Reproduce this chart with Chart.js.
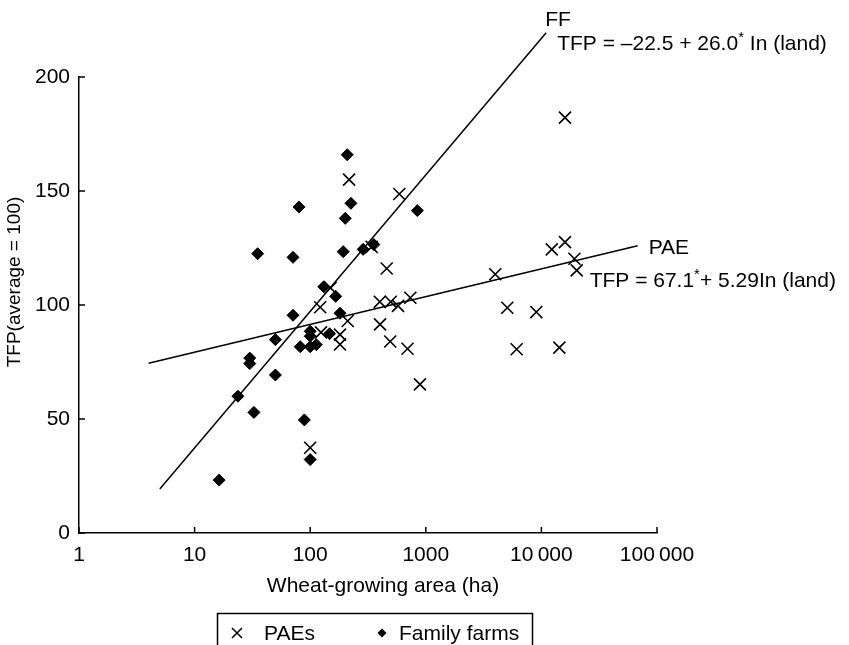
<!DOCTYPE html>
<html>
<head>
<meta charset="utf-8">
<title>TFP and wheat-growing area</title>
<script src="https://cdn.jsdelivr.net/npm/chart.js@4.4.1/dist/chart.umd.min.js"></script>
<style>
  body { margin: 0; background: #fff; }
  #wrap { width: 849px; height: 645px; position: relative; }
</style>
</head>
<body>
<div id="wrap"><canvas id="chart"></canvas></div>
<script>
const xTicks = [1, 10, 100, 1000, 10000, 100000]
const xTickLabels = ['1', '10', '100', '1000', '10\u2009000', '100\u2009000']
const yTicks = [0, 50, 100, 150, 200]

// PAEs (crosses)
const paeArea = [217, 590, 340, 459, 122, 150, 211, 402, 400, 497, 575, 735,
  124, 181, 181, 492, 695, 890, 100, 16000, 16000, 12300, 19300, 20200,
  3990, 5070, 9040, 6110, 14300]
const paeTfp = [155, 148.7, 125.5, 116, 99, 107.5, 93, 91.5, 101.4, 101.4, 99.6, 103.2,
  88, 87, 82.7, 84, 80.8, 65.2, 37.4, 182.2, 127.6, 124.4, 120.3, 115.2,
  113.5, 98.8, 96.9, 80.6, 81.3]

// family farms (diamonds)
const farmArea = [16.3, 23.7, 30, 30, 32.6, 35.1, 50, 50, 71, 71, 80, 89, 82,
  100, 100, 100, 100, 113, 147, 181, 131, 166, 193, 201, 209, 225, 287, 355, 845]
const farmTfp = [23.2, 60, 76.7, 74.3, 52.9, 122.5, 84.8, 69.3, 95.5, 120.9, 143, 49.6, 81.7,
  81.7, 88.5, 86.3, 32.2, 82.6, 87.4, 96.4, 108, 103.8, 123.4, 138, 165.9, 144.6, 124.4, 126.5, 141.4]

// fitted lines, TFP = a + b ln(land)
const ffFit = [-22.5, 26.0]
const ffRange = [5, 11000]
const paeFit = [67.1, 5.29]
const paeRange = [4, 68000]

const FONT = "'Liberation Sans', Arial, Helvetica, sans-serif"

function points(xs, ys) {
  return xs.map((x, i) => ({ x: x, y: ys[i] }))
}
function fitLine(fit, range) {
  return range.map(x => ({ x: x, y: fit[0] + fit[1] * Math.log(x) }))
}

// text with superscript asterisks: parts = [[text, isSup], ...]
function drawParts(ctx, parts, x, y) {
  parts.forEach(p => {
    if (p[1]) {
      ctx.font = '15px ' + FONT
      ctx.fillText(p[0], x, y - 8)
    } else {
      ctx.font = '21px ' + FONT
      ctx.fillText(p[0], x, y)
    }
    x += ctx.measureText(p[0]).width
  })
}

const extras = {
  id: 'extras',
  afterDraw(chart) {
    const ctx = chart.ctx
    const xs = chart.scales.x
    const ys = chart.scales.y
    const area = chart.chartArea
    ctx.save()

    // inward tick marks
    ctx.strokeStyle = '#000'
    ctx.lineWidth = 1.5
    ctx.beginPath()
    xTicks.forEach(v => {
      const px = xs.getPixelForValue(v)
      ctx.moveTo(px, area.bottom)
      ctx.lineTo(px, area.bottom - 6)
    })
    yTicks.forEach(v => {
      const py = ys.getPixelForValue(v)
      ctx.moveTo(area.left, py)
      ctx.lineTo(area.left + 6, py)
    })
    ctx.stroke()

    ctx.fillStyle = '#000'
    ctx.textBaseline = 'alphabetic'
    ctx.textAlign = 'left'

    // line labels
    const ffEnd = fitLine(ffFit, ffRange)[1]
    const fx = xs.getPixelForValue(ffEnd.x)
    const fy = ys.getPixelForValue(ffEnd.y)
    ctx.font = '21px ' + FONT
    ctx.fillText('FF', fx - 1, fy - 7)
    drawParts(ctx, [['TFP = \u201322.5 + 26.0', false], ['*', true], [' In (land)', false]], fx + 11, fy + 17)

    const paeEnd = fitLine(paeFit, paeRange)[1]
    const px = xs.getPixelForValue(paeEnd.x)
    const py = ys.getPixelForValue(paeEnd.y)
    ctx.font = '21px ' + FONT
    ctx.fillText('PAE', px + 11, py + 8)
    drawParts(ctx, [['TFP = 67.1', false], ['*', true], ['+ 5.29In (land)', false]], px - 48, py + 41)

    // axis titles
    ctx.font = '21px ' + FONT
    ctx.textAlign = 'center'
    ctx.textBaseline = 'middle'
    ctx.fillText('Wheat-growing area (ha)', 383, 586)
    ctx.save()
    ctx.font = '19px ' + FONT
    ctx.translate(15, 282)
    ctx.rotate(-Math.PI / 2)
    ctx.fillText('TFP(average = 100)', 0, 0)
    ctx.restore()

    // legend box
    ctx.lineWidth = 1.5
    ctx.strokeRect(217.5, 613.5, 315, 45)
    ctx.beginPath()
    ctx.moveTo(232, 628); ctx.lineTo(242, 638)
    ctx.moveTo(242, 628); ctx.lineTo(232, 638)
    ctx.stroke()
    ctx.beginPath()
    ctx.moveTo(382, 628.5); ctx.lineTo(386.5, 633); ctx.lineTo(382, 637.5); ctx.lineTo(377.5, 633)
    ctx.closePath()
    ctx.fill()
    ctx.font = '21px ' + FONT
    ctx.textAlign = 'left'
    ctx.textBaseline = 'alphabetic'
    ctx.fillText(chart.data.datasets[0].label, 264, 640)
    ctx.fillText(chart.data.datasets[1].label, 399, 640)
    ctx.restore()
  }
}

const ctx = document.getElementById('chart').getContext('2d')
const chart = new Chart(ctx, {
  type: 'scatter',
  data: {
    datasets: [{
      label: 'PAEs',
      data: points(paeArea, paeTfp),
      pointStyle: 'crossRot',
      pointRadius: 8.5,
      borderColor: '#000',
      borderWidth: 1.6,
      backgroundColor: '#000'
    }, {
      label: 'Family farms',
      data: points(farmArea, farmTfp),
      pointStyle: 'rectRot',
      pointRadius: 6,
      borderColor: '#000',
      borderWidth: 1,
      backgroundColor: '#000'
    }, {
      label: 'FF',
      data: fitLine(ffFit, ffRange),
      showLine: true,
      clip: false,
      pointRadius: 0,
      borderColor: '#000',
      borderWidth: 1.5
    }, {
      label: 'PAE',
      data: fitLine(paeFit, paeRange),
      showLine: true,
      clip: false,
      pointRadius: 0,
      borderColor: '#000',
      borderWidth: 1.5
    }]
  },
  options: {
    responsive: true,
    maintainAspectRatio: false,
    animation: false,
    layout: { padding: { top: 77, right: 192, left: 0, bottom: 0 } },
    plugins: {
      legend: { display: false },
      tooltip: { enabled: false }
    },
    scales: {
      x: {
        type: 'logarithmic',
        min: 1,
        max: 100000,
        afterBuildTicks: function(scale) {
          scale.ticks = xTicks.map(v => ({ value: v }))
        },
        afterFit: function(scale) { scale.height = 112 },
        grid: { display: true, drawOnChartArea: false, drawTicks: false },
        border: { display: true, color: '#000', width: 1.5 },
        ticks: {
          autoSkip: false,
          maxRotation: 0,
          padding: 10,
          color: '#000',
          font: { family: FONT, size: 21 },
          callback: function(value, index) { return xTickLabels[index] }
        }
      },
      y: {
        min: 0,
        max: 200,
        afterBuildTicks: function(scale) {
          scale.ticks = yTicks.map(v => ({ value: v }))
        },
        afterFit: function(scale) { scale.width = 79 },
        grid: { display: true, drawOnChartArea: false, drawTicks: false },
        border: { display: true, color: '#000', width: 1.5 },
        ticks: {
          padding: 9,
          color: '#000',
          font: { family: FONT, size: 21 }
        }
      }
    }
  },
  plugins: [extras]
})
</script>
</body>
</html>
